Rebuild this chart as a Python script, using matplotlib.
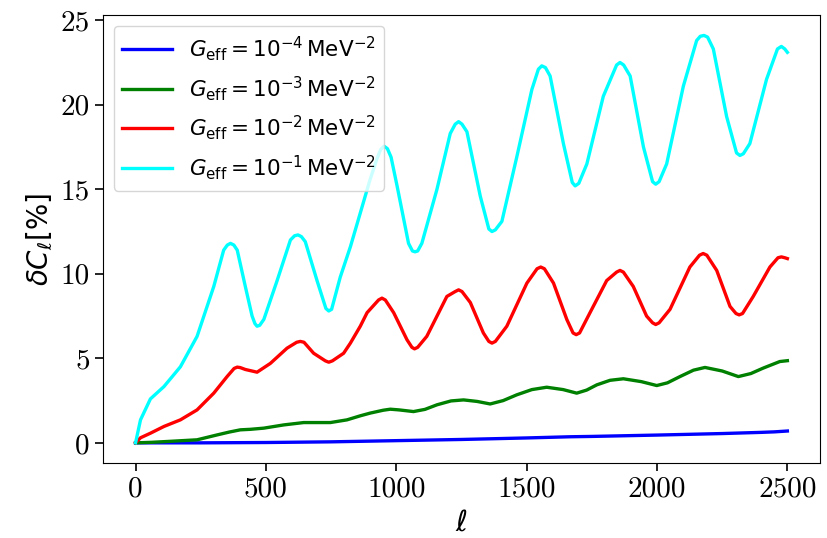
import numpy as np
import matplotlib
matplotlib.use("Agg")
import matplotlib.pyplot as plt

# -----------------------
# Data (delta C_ell in %)
# -----------------------
ell_cyan = [0, 19, 57, 109, 172, 236, 300, 338, 352, 364, 377, 390, 421, 447, 458, 466,
            476, 492, 543, 594, 610, 623, 636, 651, 696, 730, 741, 752, 785, 824, 862,
            900, 926, 940, 953, 966, 980, 1003, 1047, 1062, 1072, 1082, 1098, 1156, 1207,
            1226, 1239, 1252, 1271, 1322, 1355, 1367, 1380, 1405, 1462, 1520, 1545,
            1558, 1572, 1590, 1641, 1675, 1686, 1700, 1731, 1794, 1845, 1858, 1872,
            1897, 1948, 1983, 1995, 2008, 2037, 2101, 2152, 2166, 2180, 2194, 2216,
            2267, 2305, 2318, 2331, 2356, 2420, 2462, 2477, 2490, 2500]
val_cyan = [0.0, 1.36, 2.6, 3.33, 4.5, 6.3, 9.25, 11.4, 11.7, 11.8, 11.7, 11.4, 9.25, 7.5, 7.05, 6.9,
            6.95, 7.3, 9.6, 12.0, 12.25, 12.3, 12.2, 11.9, 9.6, 7.95, 7.8, 7.9, 9.8, 11.6, 13.6,
            15.6, 16.8, 17.35, 17.55, 17.4, 16.9, 15.2, 11.8, 11.35, 11.3, 11.35, 11.8, 15.0, 18.3,
            18.85, 19.0, 18.85, 18.4, 14.6, 12.65, 12.5, 12.6, 13.1, 16.9, 20.9, 22.1,
            22.3, 22.2, 21.7, 17.7, 15.4, 15.2, 15.35, 16.5, 20.5, 22.35, 22.5, 22.35,
            21.7, 17.5, 15.45, 15.3, 15.45, 16.5, 21.1, 23.8, 24.05, 24.1, 24.0, 23.3,
            19.3, 17.15, 17.0, 17.1, 17.7, 21.5, 23.3, 23.45, 23.3, 23.1]

ell_red = [0, 19, 57, 109, 172, 236, 300, 351, 378, 390, 402, 421, 466, 517, 581, 618,
           632, 646, 683, 728, 741, 755, 798, 824, 862, 888, 932, 945, 958, 990, 1041,
           1060, 1070, 1082, 1117, 1194, 1226, 1239, 1252, 1284, 1334, 1355, 1367,
           1380, 1424, 1501, 1540, 1554, 1568, 1603, 1654, 1678, 1690, 1703, 1743,
           1807, 1845, 1858, 1871, 1909, 1960, 1983, 1995, 2008, 2050, 2126, 2163,
           2177, 2191, 2229, 2280, 2303, 2315, 2328, 2369, 2433, 2464, 2477, 2490, 2500]
val_red = [0.0, 0.3, 0.57, 0.97, 1.36, 1.95, 2.94, 3.92, 4.4, 4.48, 4.45, 4.34, 4.18, 4.7, 5.6, 5.95,
           6.0, 5.95, 5.3, 4.85, 4.77, 4.85, 5.3, 5.9, 6.9, 7.7, 8.45, 8.56, 8.45, 7.7, 6.1,
           5.65, 5.56, 5.65, 6.3, 8.66, 8.95, 9.05, 8.95, 8.3, 6.5, 6.0, 5.9,
           6.0, 6.9, 9.45, 10.3, 10.4, 10.3, 9.45, 7.3, 6.5, 6.4, 6.5, 7.7,
           9.6, 10.1, 10.2, 10.1, 9.25, 7.5, 7.1, 7.0, 7.1, 7.9, 10.4, 11.1,
           11.2, 11.1, 10.2, 8.07, 7.65, 7.57, 7.65, 8.66, 10.4, 10.95, 11.0, 10.95, 10.9]

ell_green = [0, 60, 121, 236, 313, 360, 402, 440, 492, 568, 645, 700, 747, 811, 862,
             900, 950, 977, 1010, 1066, 1110, 1156, 1210, 1258, 1310, 1360, 1410,
             1462, 1520, 1577, 1640, 1692, 1730, 1769, 1820, 1871, 1940, 1999, 2040,
             2088, 2140, 2184, 2250, 2312, 2360, 2407, 2471, 2500]
val_green = [0.0, 0.03, 0.08, 0.18, 0.47, 0.64, 0.77, 0.8, 0.87, 1.06, 1.2, 1.2, 1.2, 1.36, 1.6,
             1.76, 1.93, 1.99, 1.95, 1.85, 1.98, 2.25, 2.48, 2.54, 2.45, 2.3, 2.5,
             2.84, 3.15, 3.29, 3.15, 2.94, 3.12, 3.43, 3.7, 3.79, 3.62, 3.39, 3.55,
             3.92, 4.3, 4.46, 4.25, 3.92, 4.1, 4.42, 4.81, 4.86]

ell_blue = [0, 250, 500, 750, 1000, 1250, 1500, 1667, 1750, 2000, 2250, 2400, 2450, 2500]
val_blue = [0.0, 0.0, 0.02, 0.06, 0.13, 0.2, 0.29, 0.36, 0.38, 0.46, 0.55, 0.62, 0.65, 0.70]

labels = [r"$G_{\rm eff} = 10^{-4}\,\mathrm{MeV}^{-2}$",
          r"$G_{\rm eff} = 10^{-3}\,\mathrm{MeV}^{-2}$",
          r"$G_{\rm eff} = 10^{-2}\,\mathrm{MeV}^{-2}$",
          r"$G_{\rm eff} = 10^{-1}\,\mathrm{MeV}^{-2}$"]


def main():
    plt.rcParams["mathtext.fontset"] = "dejavusans"

    fig = plt.figure(figsize=(8.27, 5.38), dpi=100)
    ax = fig.add_axes([0.1245, 0.139, 0.867, 0.833])

    lw = 2.4
    ax.plot(ell_blue, val_blue, color="blue", lw=lw, label=labels[0])
    ax.plot(ell_green, val_green, color="green", lw=lw, label=labels[1])
    ax.plot(ell_red, val_red, color="red", lw=lw, label=labels[2])
    ax.plot(ell_cyan, val_cyan, color="cyan", lw=lw, label=labels[3])

    ax.set_xticks([0, 500, 1000, 1500, 2000, 2500])
    ax.set_yticks([0, 5, 10, 15, 20, 25])
    for t in ax.get_xticklabels() + ax.get_yticklabels():
        t.set_fontfamily("cmr10")
        t.set_fontsize(21)
    ax.tick_params(length=6, width=1.2)

    ax.set_xlabel(r"$\ell$", fontsize=21)
    ax.set_ylabel(r"$\delta C_\ell[\%]$", fontsize=20)

    ax.legend(loc="upper left", fontsize=15.5, handlelength=2.3)

    fig.savefig("out.png", dpi=100)


if __name__ == "__main__":
    main()
